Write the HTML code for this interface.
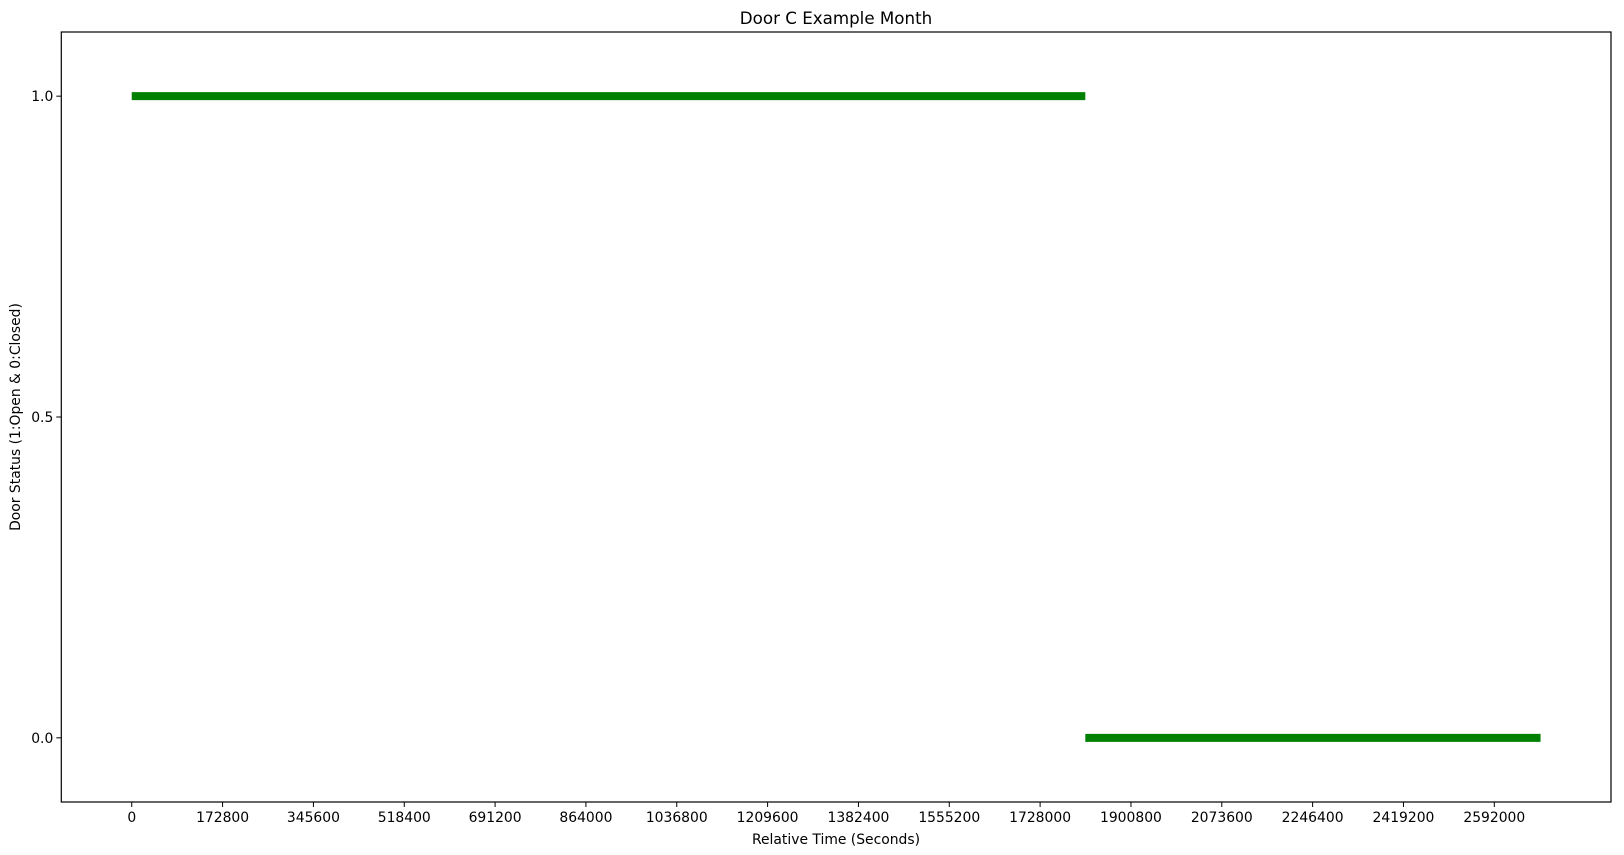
<!DOCTYPE html>
<html><head><meta charset="utf-8"><style>
body{margin:0;background:#fff;}
svg{display:block;font-family:"DejaVu Sans","Liberation Sans",sans-serif;}
</style></head><body>
<svg id="chart" width="1624" height="855" xmlns="http://www.w3.org/2000/svg">
<text x="836" y="24" font-size="16.7" text-anchor="middle">Door C Example Month</text>
<g id="plot"></g>
<text x="836" y="844" font-size="13.9" text-anchor="middle">Relative Time (Seconds)</text>
<text transform="translate(20,417) rotate(-90)" font-size="13.9" text-anchor="middle">Door Status (1:Open &amp; 0:Closed)</text>
</svg>
<script>
const xTicks = [0,172800,345600,518400,691200,864000,1036800,1209600,1382400,1555200,1728000,1900800,2073600,2246400,2419200,2592000];
const yTicks = [0.0,0.5,1.0];
const yTickLabels = ["0.0","0.5","1.0"];
const openSegX = [0,1814000];
const openSegY = [1,1];
const closedSegX = [1814000,2680000];
const closedSegY = [0,0];

const L=61.3,R=1611,T=32,B=802;
const xMin=-134000,xMax=2814000,yMin=-0.1,yMax=1.1;
const X=v=>L+(v-xMin)/(xMax-xMin)*(R-L);
const Y=v=>B-(v-yMin)/(yMax-yMin)*(B-T);
const NS="http://www.w3.org/2000/svg";
const g=document.getElementById('plot');
function mk(t,a){const e=document.createElementNS(NS,t);for(const k in a)e.setAttribute(k,a[k]);g.appendChild(e);return e;}

function seg(xs,ys,name){
  const l=mk('polyline',{points:xs.map((x,i)=>X(x)+','+Y(ys[i])).join(' '),fill:'none',stroke:'#008000','stroke-width':8});
  
  
}
seg(openSegX,openSegY,'open-status-line');
seg(closedSegX,closedSegY,'closed-status-line');

const frame=mk('rect',{x:L,y:T,width:R-L,height:B-T,fill:'none',stroke:'#000','stroke-width':1.2});



xTicks.forEach(v=>{
  const x=X(v);
  const tk=mk('line',{x1:x,x2:x,y1:B,y2:B+5,stroke:'#000','stroke-width':1});
  
  
  const t=mk('text',{x:x,y:B+20,'font-size':13.9,'text-anchor':'middle'});
  t.textContent=v;
  
  
});
yTicks.forEach((v,i)=>{
  const y=Y(v);
  const tk=mk('line',{x1:L-5,x2:L,y1:y,y2:y,stroke:'#000','stroke-width':1});
  
  
  const t=mk('text',{x:L-8,y:y+5,'font-size':13.9,'text-anchor':'end'});
  t.textContent=yTickLabels[i];
  
  
});
</script>
</body></html>
